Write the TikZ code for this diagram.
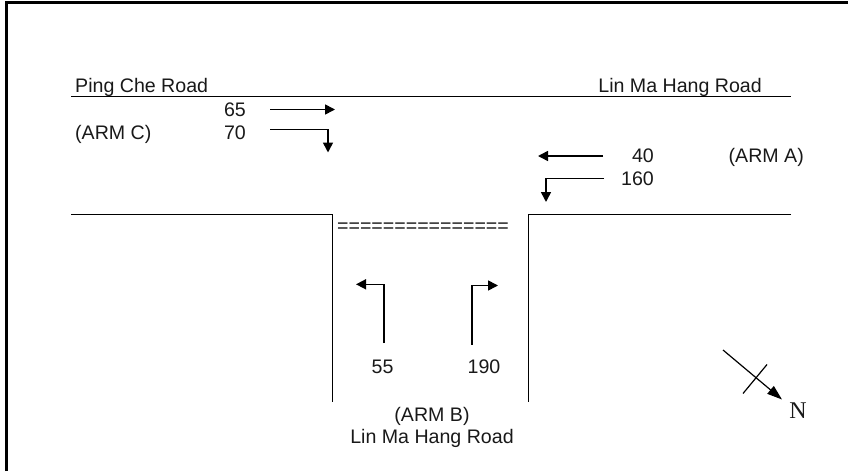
\documentclass[tikz,border=0pt]{standalone}
\usepackage{fontspec}
\setmainfont{Liberation Sans}
\newfontfamily\serifN{Liberation Serif}
\usetikzlibrary{arrows.meta}
\tikzset{
  x=1pt,y=-1pt,
  label text/.style={inner sep=0pt,font=\fontsize{19.6}{23}\selectfont,anchor=base,text=black!90},
  road/.style={line width=1.2pt,black},
  flow/.style={line width=1.6pt,black,-{Triangle[length=10pt,width=10pt]}},
  frame/.style={line width=3pt,black}
}
\begin{document}
\begin{tikzpicture}
\useasboundingbox (0,0) rectangle (848,471);
\draw[frame] (6.5,471) -- (6.5,2.5) -- (848,2.5);
% roads
\coordinate (r1a) at (71,96.5); \coordinate (r1b) at (791,96.5);
\draw[road] (r1a) -- (r1b);
\coordinate (l1) at (71,214.2); \coordinate (l2) at (332.5,214.2); \coordinate (l3) at (332.5,402);
\draw[road] (l1) -- (l2) -- (l3);
\coordinate (m1) at (791,214.2); \coordinate (m2) at (528.5,214.2); \coordinate (m3) at (528.5,402);
\draw[road] (m1) -- (m2) -- (m3);
% texts
\node[label text,anchor=base west] (tpc) at (75,92) {Ping Che Road};
\node[label text,anchor=base east] (tlm) at (762,92) {Lin Ma Hang Road};
\node[label text,anchor=base east] (t65) at (246,116) {65};
\node[label text,anchor=base east] (t70) at (246,139) {70};
\node[label text,anchor=base west] (tc) at (75,139) {(ARM C)};
\node[label text,anchor=base east] (t40) at (654,162) {40};
\node[label text,anchor=base east] (t160) at (654,185.5) {160};
\node[label text,anchor=base east] (ta) at (804,162) {(ARM A)};
\node[label text] (teq) at (423,232) {===============};
\node[label text] (t55) at (382.5,373) {55};
\node[label text] (t190) at (484,373) {190};
\node[label text] (tb) at (432,421) {(ARM B)};
\node[label text] (tl) at (432,443) {Lin Ma Hang Road};
\node[label text,font=\serifN\fontsize{24}{26}\selectfont] (tn) at (798,418) {N};
% flows
\coordinate (a1) at (270,109.5); \coordinate (a2) at (335,109.5);
\draw[flow] (a1) -- (a2);
\coordinate (b1) at (270,129.5); \coordinate (b2) at (328,129.5); \coordinate (b3) at (328,152.5);
\draw[flow] (b1) -- (b2) -- (b3);
\coordinate (c1) at (603,156); \coordinate (c2) at (538,156);
\draw[flow] (c1) -- (c2);
\coordinate (d1) at (604,178.3); \coordinate (d2) at (546,178.3); \coordinate (d3) at (546,202);
\draw[flow] (d1) -- (d2) -- (d3);
\coordinate (e1) at (384,343); \coordinate (e2) at (384,284.3); \coordinate (e3) at (356,284.3);
\draw[flow] (e1) -- (e2) -- (e3);
\coordinate (f1) at (472,344.5); \coordinate (f2) at (472,285.5); \coordinate (f3) at (498,285.5);
\draw[flow] (f1) -- (f2) -- (f3);
% north arrow
\coordinate (n1) at (723,350); \coordinate (n2) at (782,399.5);
\draw[line width=1.2pt,-{Triangle[length=15pt,width=10pt]}] (n1) -- (n2);
\coordinate (x1) at (767,364.5); \coordinate (x2) at (743,393.5);
\draw[line width=1.2pt] (x1) -- (x2);
\end{tikzpicture}
\end{document}
